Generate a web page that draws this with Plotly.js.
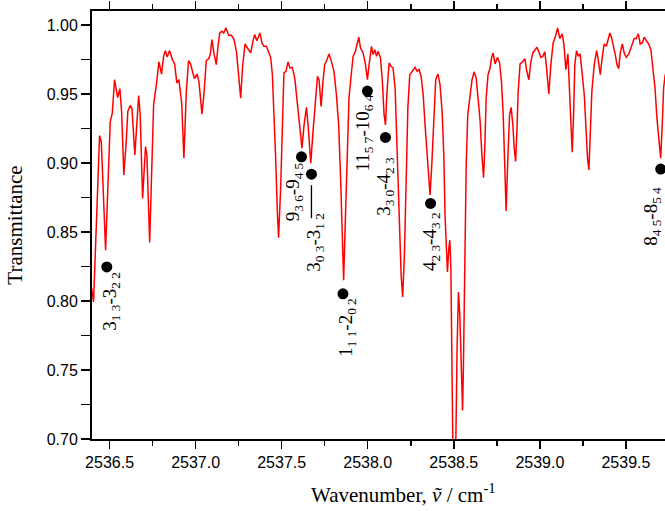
<!DOCTYPE html>
<html>
<head>
<meta charset="utf-8">
<script src="https://cdn.plot.ly/plotly-3.0.1.min.js"></script>
<style>html,body{margin:0;padding:0;overflow:hidden;background:#fff;}#chart{width:665px;height:511px;}</style>
</head>
<body>
<div id="chart"></div>
<script>
// Spectrum (wavenumber / cm^-1 vs transmittance)
const wavenumber = [2536.395,2536.407,2536.442,2536.452,2536.477,2536.490,2536.504,2536.516,2536.529,2536.547,2536.560,2536.570,2536.583,2536.597,2536.606,2536.620,2536.630,2536.647,2536.657,2536.669,2536.678,2536.692,2536.709,2536.717,2536.733,2536.744,2536.756,2536.772,2536.787,2536.802,2536.814,2536.824,2536.835,2536.849,2536.865,2536.878,2536.891,2536.903,2536.919,2536.932,2536.946,2536.959,2536.971,2536.984,2536.994,2537.008,2537.019,2537.037,2537.048,2537.062,2537.077,
2537.085,2537.095,2537.106,2537.120,2537.130,2537.140,2537.153,2537.163,2537.176,2537.192,2537.208,2537.223,2537.237,2537.248,2537.262,2537.273,2537.287,2537.301,2537.320,2537.333,2537.343,2537.356,2537.374,2537.385,2537.397,2537.411,2537.424,2537.436,2537.446,2537.455,2537.465,2537.474,2537.482,2537.494,2537.504,2537.513,2537.525,2537.537,2537.548,2537.562,2537.576,2537.591,2537.605,2537.618,2537.630,2537.644,2537.655,2537.669,2537.682,2537.696,2537.708,2537.717,2537.729,2537.740,2537.750,
2537.763,2537.775,2537.789,2537.804,2537.818,2537.831,2537.843,2537.853,2537.860,2537.868,2537.880,2537.891,2537.905,2537.915,2537.928,2537.938,2537.948,2537.958,2537.973,2537.987,2537.998,2538.008,2538.022,2538.031,2538.041,2538.051,2538.060,2538.074,2538.085,2538.095,2538.103,2538.112,2538.124,2538.136,2538.147,2538.159,2538.170,2538.182,2538.194,2538.203,2538.213,2538.223,2538.233,2538.244,2538.260,2538.275,2538.287,2538.298,2538.310,2538.322,2538.333,2538.345,2538.355,2538.362,2538.372,2538.384,2538.395,2538.408,
2538.420,2538.432,2538.442,2538.449,2538.458,2538.463,2538.471,2538.477,2538.483,2538.488,2538.494,2538.503,2538.512,2538.519,2538.527,2538.535,2538.545,2538.551,2538.556,2538.564,2538.572,2538.581,2538.593,2538.606,2538.618,2538.630,2538.641,2538.653,2538.663,2538.673,2538.680,2538.688,2538.699,2538.711,2538.719,2538.728,2538.740,2538.754,2538.766,2538.777,2538.787,2538.795,2538.804,2538.814,2538.824,2538.833,2538.843,2538.851,2538.859,2538.866,2538.874,2538.885,2538.899,2538.913,2538.924,2538.936,2538.948,2538.959,2538.971,2538.983,2538.994,2539.006,2539.017,2539.029,
2539.039,2539.052,2539.064,2539.077,2539.091,2539.103,2539.116,2539.130,2539.140,2539.151,2539.163,2539.173,2539.180,2539.188,2539.196,2539.203,2539.213,2539.223,2539.234,2539.246,2539.258,2539.269,2539.277,2539.285,2539.292,2539.302,2539.316,2539.330,2539.339,2539.351,2539.362,2539.374,2539.386,2539.397,2539.407,2539.417,2539.426,2539.438,2539.448,2539.458,2539.467,2539.479,2539.490,2539.502,2539.517,2539.533,2539.548,2539.560,2539.572,2539.583,2539.595,2539.606,2539.620,2539.634,2539.645,2539.657,2539.669,2539.680,2539.692,2539.702,2539.711,2539.719,2539.727,2539.738];
const transmittance = [0.810,0.7993,0.9199,0.9156,0.8369,0.8819,0.9301,0.9362,0.9604,0.9475,0.9539,0.9374,0.8914,0.9156,0.9374,0.9417,0.9398,0.9059,0.9277,0.9490,0.9350,0.8744,0.9119,0.9059,0.8424,0.8914,0.9422,0.9568,0.9733,0.9645,0.9773,0.9815,0.9769,0.9815,0.9749,0.9718,0.9580,0.9604,0.9435,0.9035,0.9519,0.9742,0.9718,0.9653,0.9611,0.9645,0.9592,0.9355,0.9495,0.9742,0.9757,
0.9786,0.9895,0.9798,0.9713,0.9846,0.9943,0.9955,0.9943,0.9980,0.9926,0.9926,0.9895,0.9810,0.9640,0.9471,0.9701,0.9863,0.9834,0.9798,0.9882,0.9931,0.9887,0.9943,0.9871,0.9846,0.9846,0.9798,0.9766,0.9640,0.9398,0.9035,0.8672,0.8458,0.8817,0.9326,0.9653,0.9665,0.9733,0.9689,0.9693,0.9616,0.9422,0.9228,0.9108,0.9277,0.9403,0.9253,0.8999,0.9228,0.9471,0.9629,0.9604,0.9410,0.9592,0.9713,
0.9749,0.9791,0.9737,0.9665,0.9495,0.9277,0.8865,0.8381,0.8150,0.8502,0.9059,0.9471,0.9653,0.9773,0.9810,0.9871,0.9912,0.9834,0.9798,0.9713,0.9604,0.9713,0.9846,0.9786,0.9822,0.9773,0.9810,0.9762,0.9592,0.9350,0.9277,0.9519,0.9725,0.9701,0.9689,0.9544,0.9132,0.8623,0.8187,0.8029,0.8332,0.8865,0.9398,0.9640,0.9669,0.9693,0.9665,0.9677,0.9629,0.9495,0.9277,0.9035,0.8841,0.8768,0.8986,0.9350,0.9604,0.9645,
0.9568,0.9374,0.9059,0.8623,0.8284,0.8211,0.8381,0.8441,0.8236,0.7654,0.7002,0.684,0.7002,0.7656,0.8066,0.7896,0.7460,0.7206,0.7533,0.8260,0.8986,0.9350,0.9471,0.9604,0.9661,0.9616,0.9471,0.9301,0.9059,0.8894,0.9108,0.9471,0.9640,0.9689,0.9762,0.9798,0.9718,0.9766,0.9725,0.9592,0.9350,0.8986,0.8652,0.9035,0.9350,0.9403,0.9277,0.9108,0.9011,0.9205,0.9519,0.9718,0.9733,0.9757,0.9665,0.9604,0.9737,0.9798,0.9822,0.9839,0.9806,0.9766,0.9773,0.9806,
0.9689,0.9500,0.9713,0.9871,0.9919,0.9980,0.9902,0.9936,0.9858,0.9677,0.9791,0.9471,0.9228,0.9079,0.9350,0.9713,0.9815,0.9773,0.9791,0.9640,0.9495,0.9228,0.9035,0.8950,0.9156,0.9519,0.9713,0.9815,0.9749,0.9640,0.9762,0.9863,0.9846,0.9895,0.9943,0.9907,0.9858,0.9786,0.9713,0.9684,0.9798,0.9863,0.9798,0.9766,0.9791,0.9858,0.9902,0.9902,0.9936,0.9863,0.9871,0.9912,0.9883,0.9858,0.9822,0.9689,0.9544,0.9326,0.9156,0.9035,0.9277,0.9544,0.9629,0.968];

// Assigned lines (black dots) and their labels
const lineWavenumber = [2536.484, 2537.615, 2537.673, 2537.856, 2537.998, 2538.103, 2538.365, 2539.702];
const lineTransmittance = [0.8247, 0.9045, 0.8919, 0.8052, 0.9522, 0.9186, 0.8707, 0.8956];
const lineLabels = [
  "3<sub>1 3</sub>-3<sub>2 2</sub>",
  "9<sub>3 6</sub>-9<sub>4 5</sub>",
  "3<sub>0 3</sub>-3<sub>1 2</sub>",
  "1<sub>1 1</sub>-2<sub>0 2</sub>",
  "11<sub>5 7</sub>-10<sub>6 4</sub>",
  "3<sub>3 0</sub>-4<sub>2 3</sub>",
  "4<sub>2 3</sub>-4<sub>3 2</sub>",
  "8<sub>4 5</sub>-8<sub>5 4</sub>"
];
const xTickVals = [2536.5, 2537.0, 2537.5, 2538.0, 2538.5, 2539.0, 2539.5];
const xTickText = ["2536.5", "2537.0", "2537.5", "2538.0", "2538.5", "2539.0", "2539.5"];
const yTickVals = [0.70, 0.75, 0.80, 0.85, 0.90, 0.95, 1.00];
const yTickText = ["0.70", "0.75", "0.80", "0.85", "0.90", "0.95", "1.00"];
const xTitle = "Wavenumber, <i>ṽ</i> / cm<sup>-1</sup>";
const yTitle = "Transmittance";

// label offsets in pixels (dx right, dy down) relative to each dot
const labelOffsets = [[4,34],[-8,35],[4,68],[4,33],[-3,42],[0,49],[1,38],[-9,47]];

const serif = "Liberation Serif, Times New Roman, serif";
const sans = "Liberation Sans, Arial, sans-serif";

const annotations = lineLabels.map((t, i) => ({
  x: lineWavenumber[i], y: lineTransmittance[i], xref: 'x', yref: 'y',
  text: t, textangle: -90, showarrow: false,
  xanchor: 'center', yanchor: 'middle',
  xshift: labelOffsets[i][0], yshift: -labelOffsets[i][1],
  font: {family: serif, size: 19, color: '#000'}
}));
// x-axis title (placed slightly right of centre, as in the original)
annotations.push({
  xref: 'paper', yref: 'paper', x: 0.543, y: -0.128, xanchor: 'center', yanchor: 'middle',
  text: xTitle, showarrow: false, font: {family: serif, size: 21, color: '#000'}
});

const traces = [
  {x: wavenumber, y: transmittance, type: 'scatter', mode: 'lines',
   line: {color: '#ff0000', width: 1.5}, hoverinfo: 'skip'},
  {x: lineWavenumber, y: lineTransmittance, type: 'scatter', mode: 'markers',
   marker: {color: '#000', size: 11}, cliponaxis: false, hoverinfo: 'skip'}
];

const layout = {
  width: 665, height: 511,
  margin: {l: 92, r: 0, t: 11, b: 72},
  paper_bgcolor: '#fff', plot_bgcolor: '#fff',
  showlegend: false,
  xaxis: {
    range: [2536.398, 2539.727],
    tickvals: xTickVals, ticktext: xTickText,
    ticks: 'outside', ticklen: 8, tickwidth: 1.5, tickcolor: '#000',
    minor: {dtick: 0.25, tick0: 2536.5, ticks: 'outside', ticklen: 5, tickwidth: 1.5, tickcolor: '#000'},
    showline: true, linecolor: '#000', linewidth: 2, mirror: 'ticks',
    showgrid: false, zeroline: false,
    tickfont: {family: sans, size: 16, color: '#000'}
  },
  yaxis: {
    range: [0.70, 1.0102],
    tickvals: yTickVals, ticktext: yTickText,
    ticks: 'outside', ticklen: 9, tickwidth: 1.5, tickcolor: '#000',
    minor: {dtick: 0.025, tick0: 0.70, ticks: 'outside', ticklen: 9, tickwidth: 1.5, tickcolor: '#000'},
    showline: true, linecolor: '#000', linewidth: 2, mirror: false,
    showgrid: false, zeroline: false,
    tickfont: {family: sans, size: 16, color: '#000'},
    title: {text: yTitle, font: {family: serif, size: 21, color: '#000'}, standoff: 18}
  },
  annotations: annotations,
  shapes: [{
    type: 'line', xref: 'x', yref: 'y', ysizemode: 'pixel',
    yanchor: lineTransmittance[2], x0: lineWavenumber[2], x1: lineWavenumber[2],
    y0: -11, y1: -44, line: {color: '#000', width: 1.3}
  }]
};

Plotly.newPlot('chart', traces, layout, {displayModeBar: false, staticPlot: true});
</script>
</body>
</html>
